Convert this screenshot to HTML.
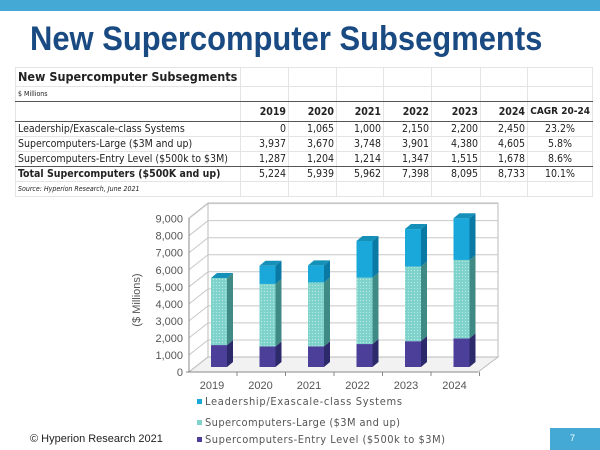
<!DOCTYPE html>
<html><head><meta charset="utf-8"><style>
body{margin:0;width:600px;height:450px;overflow:hidden;background:#fff;font-family:"Liberation Sans",sans-serif;position:relative}
.top{position:absolute;left:0;top:0;width:600px;height:11px;background:#45a9d5}
h1{position:absolute;left:30px;top:20px;margin:0;font-size:34px;font-weight:bold;color:#1a4a82;transform:scaleX(0.91);transform-origin:0 0;white-space:nowrap}
table{position:absolute;left:15px;top:67px;border-collapse:collapse;table-layout:fixed;width:577px;font-family:"DejaVu Sans Condensed","Liberation Sans Narrow","Liberation Sans",sans-serif;font-size:10.5px;line-height:12px;color:#222}
td{border:1px solid #e4e4e4;padding:0 2px;height:14px;white-space:nowrap;overflow:hidden}
td.n{text-align:right}
tr.b td{border-bottom:1px solid #555}
.foot{position:absolute;left:30px;top:433px;font-size:11px;color:#222}
.pg{position:absolute;left:550px;top:428px;width:50px;height:22px;background:#45a9d5;color:#fff;font-size:9px}
</style></head><body>
<div class="top"></div>
<h1>New Supercomputer Subsegments</h1>
<table>
<colgroup><col style="width:225px"><col style="width:48px"><col style="width:48px"><col style="width:47px"><col style="width:48px"><col style="width:49px"><col style="width:47px"><col style="width:65px"></colgroup>
<tr><td style="height:18px;font-size:12.5px;font-weight:bold">New Supercomputer Subsegments</td><td></td><td></td><td></td><td></td><td></td><td></td><td></td></tr>
<tr class="b"><td style="height:9px;font-size:7px;line-height:9px">$ Millions</td><td></td><td></td><td></td><td></td><td></td><td></td><td></td></tr>
<tr class="b" style="font-weight:bold"><td style="height:19px"></td><td class="n">2019</td><td class="n">2020</td><td class="n">2021</td><td class="n">2022</td><td class="n">2023</td><td class="n">2024</td><td class="n" style="font-size:10px">CAGR 20-24</td></tr>
<tr><td>Leadership/Exascale-class Systems</td><td class="n">0</td><td class="n">1,065</td><td class="n">1,000</td><td class="n">2,150</td><td class="n">2,200</td><td class="n">2,450</td><td style="text-align:center">23.2%</td></tr>
<tr><td>Supercomputers-Large ($3M and up)</td><td class="n">3,937</td><td class="n">3,670</td><td class="n">3,748</td><td class="n">3,901</td><td class="n">4,380</td><td class="n">4,605</td><td style="text-align:center">5.8%</td></tr>
<tr class="b"><td>Supercomputers-Entry Level ($500k to $3M)</td><td class="n">1,287</td><td class="n">1,204</td><td class="n">1,214</td><td class="n">1,347</td><td class="n">1,515</td><td class="n">1,678</td><td style="text-align:center">8.6%</td></tr>
<tr><td style="font-weight:bold">Total Supercomputers ($500K and up)</td><td class="n">5,224</td><td class="n">5,939</td><td class="n">5,962</td><td class="n">7,398</td><td class="n">8,095</td><td class="n">8,733</td><td style="text-align:center">10.1%</td></tr>
<tr><td style="font-size:7px;font-style:italic">Source: Hyperion Research, June 2021</td><td></td><td></td><td></td><td></td><td></td><td></td><td></td></tr>
</table>
<svg width="600" height="450" style="position:absolute;left:0;top:0">
<defs><pattern id="dt" width="3" height="3" patternUnits="userSpaceOnUse"><rect width="3" height="3" fill="#7fd3cb"/><rect width="1" height="1" fill="#b8ebe5"/></pattern></defs>
<polygon points="189,372 208,357 208,203 189,218" fill="#fff" stroke="#bbb"/>
<polygon points="208,357 498,357 498,203 208,203" fill="#fff" stroke="#bbb"/>
<polygon points="189,372 208,357 498,357 478,372" fill="#f2f2f2" stroke="#bbb"/>
<g stroke="#c8c8c8" stroke-width="1" fill="none" id="grid"></g>
<g id="bars"></g>
<line x1="186" y1="372" x2="478" y2="372" stroke="#888"/>
<line x1="189" y1="218" x2="189" y2="372" stroke="#888"/>
<g font-size="11" fill="#555" text-anchor="end" id="yl"></g>
<g font-size="11" fill="#555" text-anchor="middle" id="xl"></g>
<text transform="translate(140,300) rotate(-90)" font-size="11" fill="#555" text-anchor="middle">($ Millions)</text>
<g font-size="11" fill="#555" font-family="DejaVu Sans Condensed, Liberation Sans, sans-serif">
<rect x="197" y="399" width="5" height="5" fill="#1aa7d9"/><text x="205" y="405" textLength="197">Leadership/Exascale-class Systems</text>
<rect x="197" y="420" width="5" height="5" fill="#7fd3cb"/><text x="205" y="426" textLength="195">Supercomputers-Large ($3M and up)</text>
<rect x="197" y="437" width="5" height="5" fill="#4b3f9a"/><text x="205" y="443" textLength="240">Supercomputers-Entry Level ($500k to $3M)</text>
</g>
</svg>
<div class="foot">© Hyperion Research 2021</div>
<div class="pg"><span style="position:absolute;left:20px;top:5px">7</span></div>
<script>
var k=0.01704,g='',yl='',xl='',b='';
for(var v=0;v<=9000;v+=1000){var yf=372-v*k,yb=357-v*k;
 if(v>0)g+='<line x1="189" y1="'+yf+'" x2="208" y2="'+yb+'"/><line x1="208" y1="'+yb+'" x2="498" y2="'+yb+'"/>';
 yl+='<text x="183" y="'+(yf+4)+'">'+(v?v.toLocaleString('en-US'):'0')+'</text>';}
document.getElementById('grid').innerHTML=g;document.getElementById('yl').innerHTML=yl;
var d=[[1287,3937,0],[1204,3670,1065],[1214,3748,1000],[1347,3901,2150],[1515,4380,2200],[1678,4605,2450]];
var fc=['#4b3f9a','url(#dt)','#1aa7d9'],sc=['#2d2a6b','#3f8a84','#0a7aa5'];
for(var i=0;i<6;i++){var x=211+i*48.5,y=367;
 for(var j=0;j<3;j++){var h=d[i][j]*k;if(h<=0)continue;var t=y-h;
  b+='<rect x="'+x+'" y="'+t+'" width="16" height="'+h+'" fill="'+fc[j]+'"/>';
  b+='<polygon points="'+(x+16)+','+y+' '+(x+22)+','+(y-5)+' '+(x+22)+','+(t-5)+' '+(x+16)+','+t+'" fill="'+sc[j]+'"/>';
  y=t;}
 b+='<polygon points="'+x+','+y+' '+(x+6)+','+(y-5)+' '+(x+22)+','+(y-5)+' '+(x+16)+','+y+'" fill="#1590b8"/>';
 xl+='<text x="'+(x+1)+'" y="389">'+(2019+i)+'</text>';
 b+='<line x1="'+(x+26)+'" y1="372" x2="'+(x+26)+'" y2="376" stroke="#888"/>';}
document.getElementById('bars').innerHTML=b;document.getElementById('xl').innerHTML=xl;
</script>
</body></html>
